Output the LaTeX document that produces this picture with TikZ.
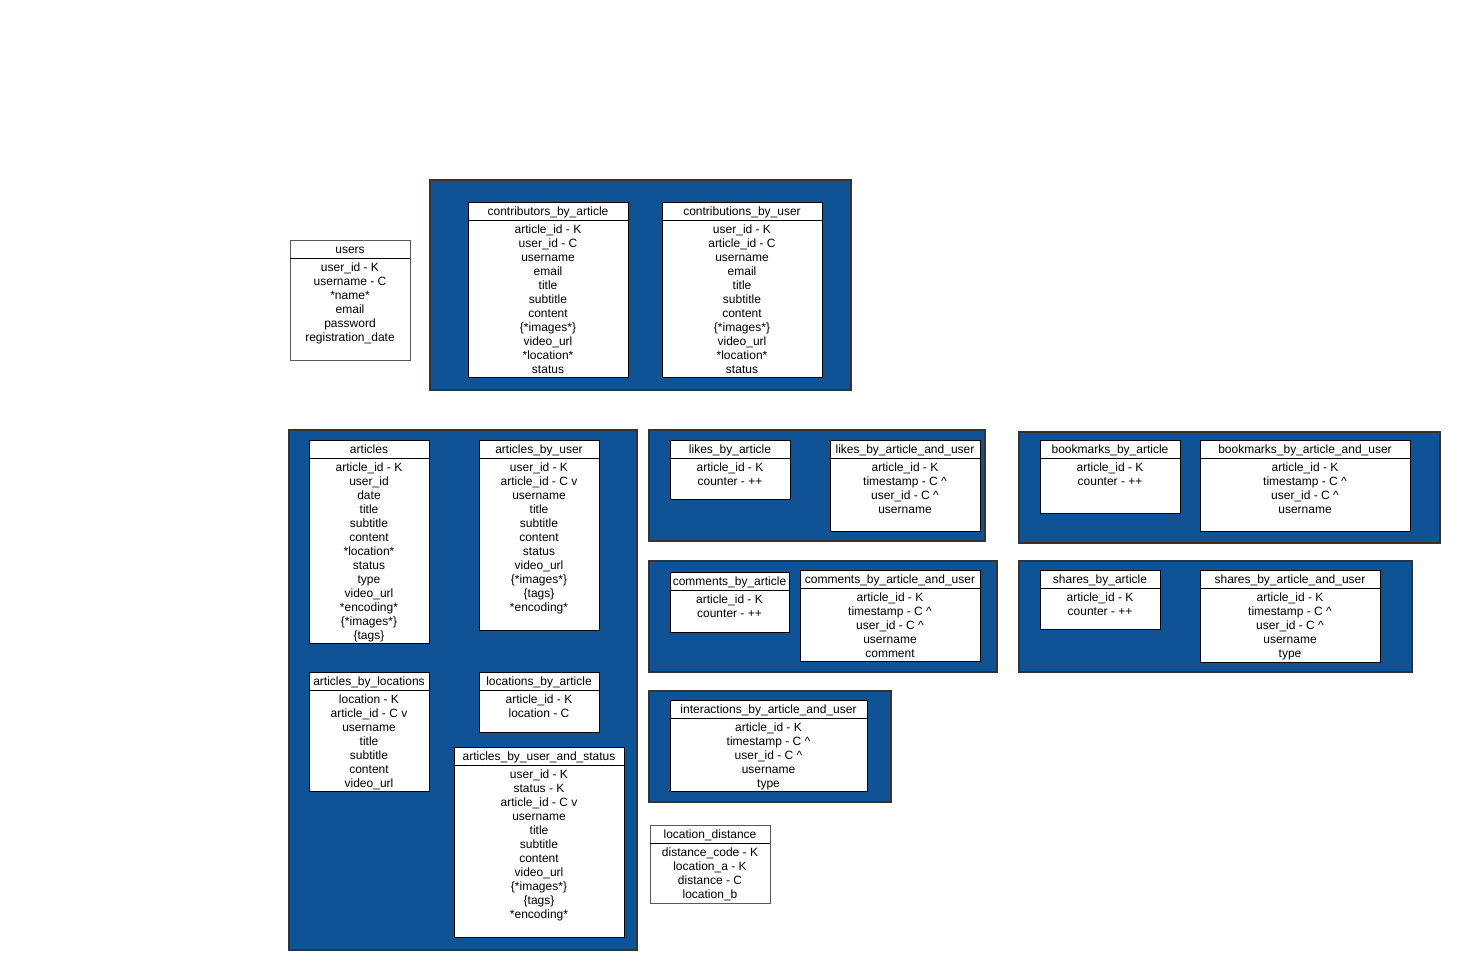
\documentclass[tikz,border=0pt]{standalone}
\usepackage{fontspec}
\setmainfont{Liberation Sans}
\definecolor{cblue}{RGB}{16,82,150}
\definecolor{cborder}{RGB}{51,51,51}
\tikzset{
  container/.style={draw=cborder, line width=2pt, fill=cblue, inner sep=0pt, outer sep=0pt},
  tblbox/.style={draw=black, line width=0.8pt, fill=white, inner sep=0pt, outer sep=0pt},
  freebox/.style={tblbox, draw=black!65},
  tblline/.style={line width=0.8pt},
  tbltxt/.style={font=\fontsize{12}{14}\selectfont, inner sep=0pt, text=black}
}
\newcommand\dbt[8][tblbox]{%
  \node[#1, minimum width=#5pt, minimum height=#6pt, anchor=north west] (#2) at (#3,#4) {};
  \draw[tblline, draw=black] (#3,#4+18) -- (#3+#5,#4+18);
  \node[tbltxt, anchor=base] (#2-title) at (#3+#5/2,#4+13) {#7};
  \foreach \r [count=\i] in {#8} {\node[tbltxt, anchor=base] (#2-\i) at (#3+#5/2,#4+17+14*\i) {\r};}
}
\begin{document}
\begin{tikzpicture}[x=1pt,y=-1pt]
\useasboundingbox (0,0) rectangle (1460,970);
% containers
\node[container, minimum width=421pt, minimum height=210pt, anchor=north west] (ccontrib) at (430,180) {};
\node[container, minimum width=348pt, minimum height=520pt, anchor=north west] (carticles) at (289,430) {};
\node[container, minimum width=336pt, minimum height=111pt, anchor=north west] (clikes) at (649,430) {};
\node[container, minimum width=421pt, minimum height=111pt, anchor=north west] (cbook) at (1019,432) {};
\node[container, minimum width=348pt, minimum height=111pt, anchor=north west] (ccomm) at (649,561) {};
\node[container, minimum width=393pt, minimum height=111pt, anchor=north west] (cshares) at (1019,561) {};
\node[container, minimum width=242pt, minimum height=111pt, anchor=north west] (cinter) at (649,691) {};
% tables
\dbt[freebox]{users}{290}{240}{120}{120}{users}{user\_id - K, username - C, *name*, email, password, registration\_date}
\dbt{cba}{468}{202}{160}{175}{contributors\_by\_article}{article\_id - K, user\_id - C, username, email, title, subtitle, content, \{*images*\}, video\_url, *location*, status}
\dbt{cbu}{662}{202}{160}{175}{contributions\_by\_user}{user\_id - K, article\_id - C, username, email, title, subtitle, content, \{*images*\}, video\_url, *location*, status}
\dbt{articles}{309}{440}{120}{203}{articles}{article\_id - K, user\_id, date, title, subtitle, content, *location*, status, type, video\_url, *encoding*, \{*images*\}, \{tags\}}
\dbt{abu}{479}{440}{120}{190}{articles\_by\_user}{user\_id - K, article\_id - C v, username, title, subtitle, content, status, video\_url, \{*images*\}, \{tags\}, *encoding*}
\dbt{abl}{309}{672}{120}{119}{articles\_by\_locations}{location - K, article\_id - C v, username, title, subtitle, content, video\_url}
\dbt{lba}{479}{672}{120}{60}{locations\_by\_article}{article\_id - K, location - C}
\dbt{abus}{454}{747}{170}{190}{articles\_by\_user\_and\_status}{user\_id - K, status - K, article\_id - C v, username, title, subtitle, content, video\_url, \{*images*\}, \{tags\}, *encoding*}
\dbt{lkba}{670}{440}{120}{59}{likes\_by\_article}{article\_id - K, counter - ++}
\dbt{lkbau}{830}{440}{150}{91}{likes\_by\_article\_and\_user}{article\_id - K, timestamp - C \textasciicircum, user\_id - C \textasciicircum, username}
\dbt{bmba}{1040}{440}{140}{73}{bookmarks\_by\_article}{article\_id - K, counter - ++}
\dbt{bmbau}{1200}{440}{210}{91}{bookmarks\_by\_article\_and\_user}{article\_id - K, timestamp - C \textasciicircum, user\_id - C \textasciicircum, username}
\dbt{cmba}{670}{572}{119}{60}{comments\_by\_article}{article\_id - K, counter - ++}
\dbt{cmbau}{800}{570}{180}{91}{comments\_by\_article\_and\_user}{article\_id - K, timestamp - C \textasciicircum, user\_id - C \textasciicircum, username, comment}
\dbt{shba}{1040}{570}{120}{59}{shares\_by\_article}{article\_id - K, counter - ++}
\dbt{shbau}{1200}{570}{180}{92}{shares\_by\_article\_and\_user}{article\_id - K, timestamp - C \textasciicircum, user\_id - C \textasciicircum, username, type}
\dbt{ibau}{670}{700}{197}{91}{interactions\_by\_article\_and\_user}{article\_id - K, timestamp - C \textasciicircum, user\_id - C \textasciicircum, username, type}
\dbt[freebox]{ld}{650}{825}{120}{78}{location\_distance}{distance\_code - K, location\_a - K, distance - C, location\_b}
\end{tikzpicture}
\end{document}
